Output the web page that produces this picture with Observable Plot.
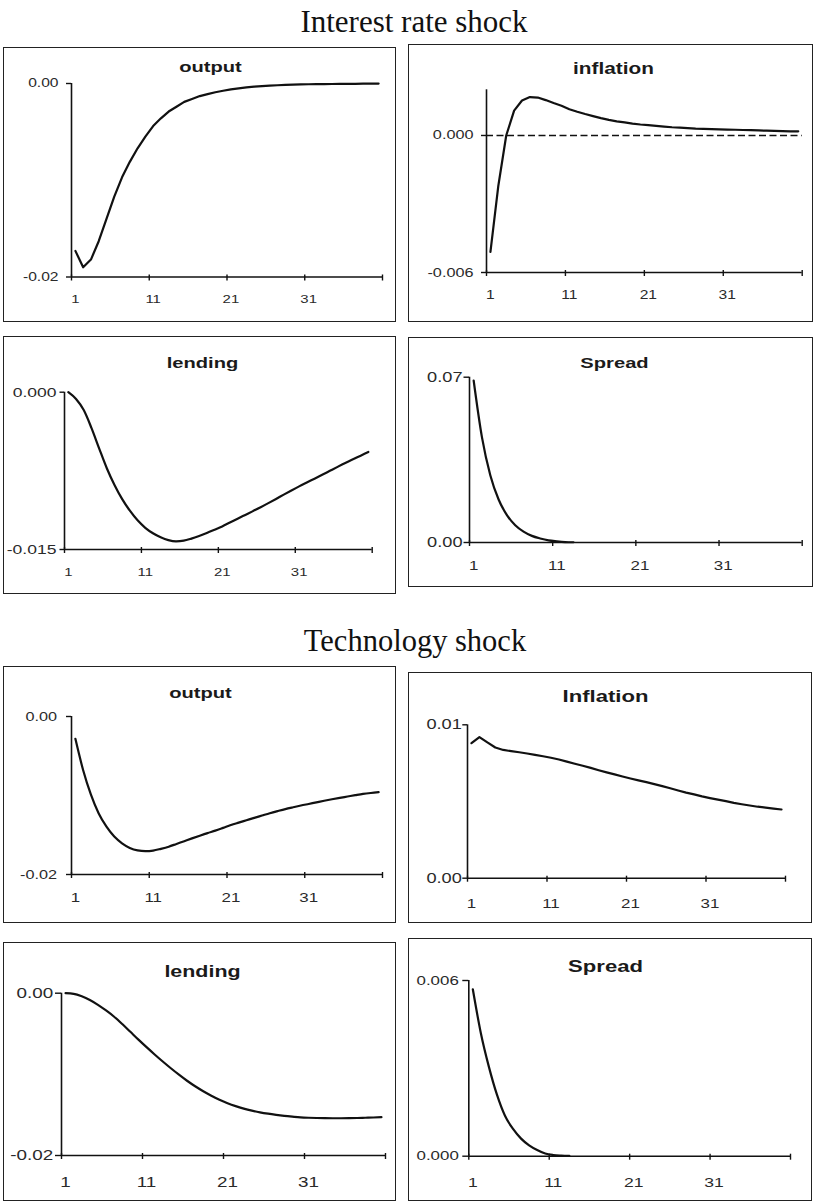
<!DOCTYPE html>
<html>
<head>
<meta charset="utf-8">
<script src="https://cdn.jsdelivr.net/npm/d3@7"></script>
<script src="https://cdn.jsdelivr.net/npm/@observablehq/plot@0.6"></script>
<style>
  html, body { margin: 0; padding: 0; background: #fff; }
  #page { position: relative; width: 815px; height: 1204px; overflow: hidden; background: #fff; }
  .section { position: absolute; font-family: "Liberation Serif", "Times New Roman", serif; color: #111;
             white-space: nowrap; transform: translateX(-50%); line-height: 1; }
  .panel { position: absolute; }
  .border { position: absolute; box-sizing: border-box; border: 1.5px solid #222; pointer-events: none; }
</style>
</head>
<body>
<div id="page"></div>
<script>
// ---------------- data ----------------
const periods = d3.range(1, 41);

const sectionTitles = ["Interest rate shock", "Technology shock"];
const panelTitles = ["output", "inflation", "lending", "Spread", "output", "Inflation", "lending", "Spread"];

const xTickLabels = [1, 11, 21, 31];
const xTickMarks = [0.5, 10.5, 20.5, 30.5, 40.5];

const irOutput = [-0.0173,-0.0190,-0.0182,-0.0163,-0.0140,-0.0117,-0.0097,-0.0081,-0.0067,-0.0055,
  -0.0044,-0.0036,-0.0029,-0.0024,-0.0019,-0.0016,-0.0013,-0.0011,-0.0009,-0.00075,
  -0.0006,-0.0005,-0.0004,-0.00033,-0.00027,-0.00022,-0.00018,-0.00015,-0.00012,-0.0001,
  -0.00008,-0.00007,-0.00006,-0.00005,-0.00004,-0.00003,-0.00003,-0.00002,-0.00002,-0.00001];
const irInflation = [-0.0051,-0.0022,0.0000,0.00109,0.00153,0.00168,0.00166,0.00155,0.00142,0.0013,
  0.00115,0.00104,0.00094,0.00085,0.00076,0.00068,0.00062,0.00057,0.00052,0.00048,
  0.00045,0.00042,0.00039,0.00036,0.00034,0.00032,0.0003,0.00029,0.00028,0.00027,
  0.00026,0.00025,0.00024,0.00023,0.00022,0.00021,0.0002,0.00019,0.00018,0.00018];
const irLending = [0,-0.00065,-0.0017,-0.0034,-0.00535,-0.00725,-0.00885,-0.0102,-0.0113,-0.01222,
  -0.01293,-0.01345,-0.01383,-0.0141,-0.01422,-0.01416,-0.01396,-0.01371,-0.01343,-0.01312,
  -0.0128,-0.01243,-0.01206,-0.0117,-0.01134,-0.01097,-0.01058,-0.01018,-0.00977,-0.00937,
  -0.00898,-0.00861,-0.00825,-0.00788,-0.0075,-0.00712,-0.00675,-0.0064,-0.00605,-0.0057];
// visible part of the spread responses (afterwards they lie on the axis)
const irSpread = [0.0686,0.0445,0.0285,0.0182,0.0116,0.0073,0.0046,0.0028,0.0017,0.0009,
  0.0005,0.0002,0.0001];
const techOutput = [-0.00283,-0.0068,-0.0099,-0.01228,-0.01395,-0.0152,-0.01605,-0.01663,-0.01695,-0.01705,
  -0.01698,-0.01675,-0.01648,-0.01613,-0.01578,-0.01543,-0.01509,-0.01476,-0.01445,-0.0141,
  -0.01374,-0.01343,-0.01313,-0.01283,-0.01254,-0.01225,-0.01198,-0.01172,-0.01149,-0.01127,
  -0.01107,-0.01087,-0.01067,-0.01048,-0.0103,-0.01013,-0.00996,-0.0098,-0.00968,-0.00958];
const techInflation = [0.0088,0.0092,0.00885,0.00852,0.00836,0.00828,0.00821,0.00813,0.00804,0.00795,
  0.00785,0.00774,0.0076,0.00746,0.00733,0.00719,0.00704,0.0069,0.00677,0.00663,
  0.0065,0.00638,0.00626,0.00613,0.006,0.00586,0.00572,0.00558,0.00546,0.00533,
  0.00522,0.00512,0.00502,0.00491,0.00482,0.00474,0.00466,0.0046,0.00454,0.00448];
const techLending = [0,-0.00008,-0.00038,-0.00083,-0.00143,-0.00213,-0.0029,-0.0038,-0.00476,-0.00572,
  -0.00665,-0.00755,-0.00842,-0.00925,-0.01004,-0.01079,-0.01147,-0.01208,-0.01263,-0.01313,
  -0.01356,-0.01392,-0.01422,-0.01447,-0.01468,-0.01485,-0.01499,-0.01511,-0.01521,-0.0153,
  -0.01535,-0.01538,-0.0154,-0.01541,-0.01541,-0.0154,-0.01538,-0.01535,-0.01532,-0.01528];
const techSpread = [0.0057,0.0042,0.00305,0.0021,0.00138,0.00093,0.0006,0.00037,0.00021,0.00009,
  0.00004,0.00002,0.00001];

const seriesList = [irOutput, irInflation, irLending, irSpread, techOutput, techInflation, techLending, techSpread];
const yDomains = [[-0.02, 0], [-0.006, 0.002], [-0.015, 0], [0, 0.07], [-0.02, 0], [0, 0.01], [-0.02, 0], [0, 0.006]];
const yTickValues = [[0, -0.02], [0, -0.006], [0, -0.015], [0.07, 0], [0, -0.02], [0.01, 0], [0, -0.02], [0.006, 0]];
const yDecimals = [2, 3, 3, 2, 2, 2, 2, 3];
const zeroLine = [false, true, false, false, false, false, false, false];
const curves = ["linear", "linear", "monotone-x", "monotone-x", "monotone-x", "linear", "monotone-x", "monotone-x"];

// ---------------- layout (pixels) ----------------
// box: [left, top, right, bottom]; plot: [axisLeft, axisRight, yTopPx, yBottomPx]
// title: [centerX, baseline, fontSize]
const layout = [
  {box: [3, 47, 396, 322],    plot: [71, 382, 83, 276.5],     title: [210, 71, 15.5], yf: 12,   ts: 5,   tp: 8,   xf: 11.5, xoff: 21.5},
  {box: [408, 44, 813, 322],  plot: [486, 801.7, 89.3, 272],  title: [613, 73, 16],   yf: 12.5, ts: 5,   tp: 8,   xf: 12,   xoff: 22.3},
  {box: [3, 336, 396, 594],   plot: [64, 371.7, 391.7, 549],  title: [202, 367, 15.5],yf: 13.5, ts: 4.5, tp: 3.5, xf: 11.5, xoff: 22.7},
  {box: [408, 337, 813, 587], plot: [469, 801.7, 376.7, 542], title: [614, 367, 15.5],yf: 14,   ts: 5.5, tp: 1.5, xf: 13,   xoff: 23},
  {box: [3, 666, 396, 923],   plot: [71, 382, 716, 874],      title: [200, 697, 15.5],yf: 12.5, ts: 5,   tp: 9.5, xf: 13,   xoff: 22.7},
  {box: [408, 672, 812, 923], plot: [467, 785, 724.3, 877.7], title: [605, 701.5, 17],yf: 14,   ts: 4.7, tp: 1,   xf: 13,   xoff: 25},
  {box: [3, 942, 396, 1201],  plot: [61, 385, 992.7, 1155],   title: [202, 976, 16.5],yf: 14.5, ts: 6,   tp: 2.3, xf: 14.5, xoff: 26.7},
  {box: [408, 938, 812, 1201],plot: [468.3, 790, 980, 1155.7],title: [605, 971.5, 17],yf: 13,   ts: 6,   tp: 4,   xf: 13.5, xoff: 26}
];
const sectionLayout = [
  {cx: 414, top: 6, size: 31},
  {cx: 415, top: 626, size: 30.5}
];
const textStretch = 1.3;

// ---------------- render ----------------
const page = document.getElementById("page");

sectionTitles.forEach((s, i) => {
  const d = document.createElement("div");
  d.className = "section";
  d.textContent = s;
  d.style.left = sectionLayout[i].cx + "px";
  d.style.top = sectionLayout[i].top + "px";
  d.style.fontSize = sectionLayout[i].size + "px";
  page.appendChild(d);
});

panelTitles.forEach((title, i) => {
  const L = layout[i];
  const [bl, bt, br, bb] = L.box;
  const [pl, pr, pt, pb] = L.plot;
  const [ymin, ymax] = yDomains[i];
  const data = seriesList[i].map((v, k) => ({t: periods[k], v}));
  const dec = yDecimals[i];

  const marks = [
    // y axis line
    Plot.ruleX([0.5], {y1: ymin, y2: ymax, stroke: "#111", strokeWidth: 1.6}),
    // x axis line
    Plot.ruleY([ymin], {x1: 0.5, x2: 40.5, stroke: "#111", strokeWidth: 1.6}),
    Plot.axisY({ticks: yTickValues[i], tickSize: L.ts, tickPadding: L.tp, tickFormat: (v) => v.toFixed(dec),
                fontSize: L.yf, label: null, stroke: "#111", strokeWidth: 1.4}),
    Plot.axisX({ticks: xTickMarks, tickSize: 6, dy: -2, tickFormat: () => "", label: null, stroke: "#111", strokeWidth: 1.4}),
    Plot.axisX({ticks: xTickLabels, tickSize: 0, tickPadding: L.xoff - 0.355 * L.xf, tickFormat: (d) => String(d),
                fontSize: L.xf, label: null}),
  ];
  if (zeroLine[i]) {
    marks.push(Plot.ruleY([0], {stroke: "#111", strokeWidth: 1.5, strokeDasharray: "7,3.5"}));
  }
  marks.push(Plot.line(data, {x: "t", y: "v", stroke: "#111", strokeWidth: 2.2, curve: curves[i]}));
  marks.push(Plot.text([title], {
    frameAnchor: "top-left", dx: L.title[0] - pl, dy: L.title[1] - pt,
    textAnchor: "middle", lineAnchor: "bottom", fontSize: L.title[2], fontWeight: "bold", fill: "#1a1a1a"
  }));

  const svg = Plot.plot({
    width: br - bl,
    height: bb - bt,
    marginLeft: pl - bl,
    marginRight: br - pr,
    marginTop: pt - bt,
    marginBottom: bb - pb,
    x: {domain: [0.5, 40.5], label: null},
    y: {domain: [ymin, ymax], label: null},
    style: {fontFamily: "'Liberation Sans', Arial, sans-serif", color: "#2a2a2a", background: "transparent",
            maxWidth: "none", overflow: "visible"},
    marks
  });
  // horizontally widen the sans-serif labels, as in the original (stretched) figure
  svg.querySelectorAll("text").forEach((t) => {
    const tr = t.getAttribute("transform") || "";
    t.setAttribute("transform", tr + ` scale(${textStretch},1)`);
  });

  const wrap = document.createElement("div");
  wrap.className = "panel";
  wrap.style.left = bl + "px";
  wrap.style.top = bt + "px";
  wrap.style.width = (br - bl) + "px";
  wrap.style.height = (bb - bt) + "px";
  svg.style.position = "absolute";
  svg.style.left = "0px";
  svg.style.top = "0px";
  wrap.appendChild(svg);
  const border = document.createElement("div");
  border.className = "border";
  border.style.left = "0px";
  border.style.top = "0px";
  border.style.width = (br - bl) + "px";
  border.style.height = (bb - bt) + "px";
  wrap.appendChild(border);
  page.appendChild(wrap);
});
</script>
</body>
</html>
